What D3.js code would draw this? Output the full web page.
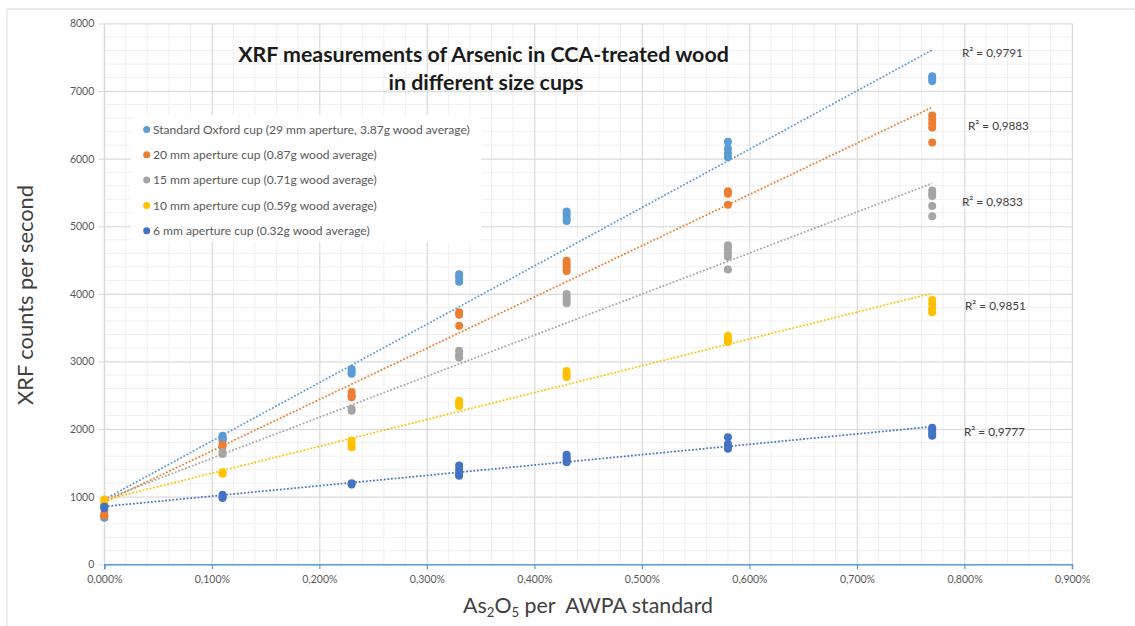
<!DOCTYPE html>
<html><head><meta charset="utf-8">
<script src="https://cdn.jsdelivr.net/npm/d3@7/dist/d3.min.js"></script>
<style>
body{margin:0;background:#fff;}
text{font-family:Lato,"Open Sans","Liberation Sans",sans-serif;}
</style>
</head><body>
<svg id="chart" width="1135" height="626"></svg>
<script>
// ---------------- DATA ----------------
const xValues = [0, 0.11, 0.23, 0.33, 0.43, 0.58, 0.77]; // As2O5 % per AWPA standard

const seriesNames = [
  "Standard Oxford cup (29 mm aperture, 3.87g wood average)",
  "20 mm aperture cup (0.87g wood average)",
  "15 mm aperture cup (0.71g wood average)",
  "10 mm aperture cup (0.59g wood average)",
  "6 mm aperture cup (0.32g wood average)"
];

// replicate XRF counts per second at each x value
const oxfordCup = [[700, 690], [1900, 1870, 1850, 1830], [2890, 2850, 2820], [4290, 4240, 4180],
  [5220, 5170, 5120, 5080], [6250, 6150, 6080, 6020], [7220, 7180, 7150]];
const cup20mm = [[760, 720], [1770, 1740], [2550, 2500, 2470], [3730, 3690, 3530],
  [4490, 4440, 4390, 4340], [5520, 5480, 5320], [6640, 6580, 6520, 6460, 6240]];
const cup15mm = [[880, 860], [1660, 1630], [2300, 2270], [3160, 3100, 3060],
  [4000, 3950, 3900, 3860], [4720, 4660, 4600, 4550, 4360], [5530, 5480, 5450, 5300, 5150]];
const cup10mm = [[960, 940], [1360, 1340], [1830, 1780, 1730], [2420, 2380, 2340],
  [2860, 2810, 2770], [3380, 3330, 3290], [3910, 3850, 3780, 3730]];
const cup6mm = [[850, 830], [1030, 1000, 980], [1200, 1180], [1460, 1400, 1350, 1310],
  [1620, 1580, 1540, 1510], [1880, 1780, 1740, 1710], [2020, 1980, 1940, 1900]];

// linear trendline values read at x = 0 and x = 0.77
const trendStart = [960, 920, 960, 950, 855];
const trendEnd = [7608, 6760, 5636, 4009, 2036];

const r2Labels = ["R² = 0,9791", "R² = 0,9883", "R² = 0,9833", "R² = 0,9851", "R² = 0,9777"];

const xTicks = [0, 0.1, 0.2, 0.3, 0.4, 0.5, 0.6, 0.7, 0.8, 0.9];
const yTicks = [0, 1000, 2000, 3000, 4000, 5000, 6000, 7000, 8000];

const titleLines = ["XRF measurements of Arsenic in CCA-treated wood", "in different size cups"];
const yTitle = "XRF counts per second";

// ---------------- STYLE / LAYOUT ----------------
const colors = ["#5B9BD5", "#ED7D31", "#A5A5A5", "#FFC000", "#4472C4"];
const allSeries = [oxfordCup, cup20mm, cup15mm, cup10mm, cup6mm];
const plot = {left: 104.3, right: 1072, top: 23.5, bottom: 564.3};
const r2Pos = [[962, 53], [968, 126], [962, 202], [965, 306], [964, 432]];

const svg = d3.select("#chart");
const x = d3.scaleLinear().domain([0, 0.9]).range([plot.left, plot.right]);
const y = d3.scaleLinear().domain([0, 8000]).range([plot.bottom, plot.top]);

function fit(sel, w) {
  const L = sel.node().getComputedTextLength();
  const fs = parseFloat(sel.attr("font-size"));
  sel.attr("font-size", (fs * w / L).toFixed(2));
  return +(fs * w / L).toFixed(2);
}

// outer chart border
svg.append("rect").attr("x", 7).attr("y", 9).attr("width", 1140).attr("height", 640)
  .attr("fill", "#fff").attr("stroke", "#d9d9d9").attr("stroke-width", 1);

// minor grid
const g = svg.append("g");
g.selectAll("line.mx").data(d3.range(0, 0.9001, 0.02)).join("line")
  .attr("x1", d => x(d)).attr("x2", d => x(d)).attr("y1", plot.top).attr("y2", plot.bottom)
  .attr("stroke", "#f0f0f0").attr("stroke-width", 1);
g.selectAll("line.my").data(d3.range(0, 8001, 200)).join("line")
  .attr("x1", plot.left).attr("x2", plot.right).attr("y1", d => y(d)).attr("y2", d => y(d))
  .attr("stroke", "#f0f0f0").attr("stroke-width", 1);

// major grid via axes
const gx = svg.append("g").attr("transform", `translate(0,${plot.top})`)
  .call(d3.axisBottom(x).tickValues(xTicks).tickSize(plot.bottom - plot.top).tickFormat(""));
gx.select(".domain").remove();
gx.selectAll("line").attr("stroke", "#d9d9d9");
const gy = svg.append("g").attr("transform", `translate(${plot.left - 6},0)`)
  .call(d3.axisRight(y).tickValues(yTicks).tickSize(plot.right - plot.left + 6).tickFormat(""));
gy.select(".domain").remove();
gy.selectAll("line").attr("stroke", "#d9d9d9");
svg.append("line").attr("x1", plot.left).attr("x2", plot.left).attr("y1", plot.top).attr("y2", plot.bottom)
  .attr("stroke", "#d9d9d9");

// y tick labels
const yl = svg.append("g").attr("transform", `translate(${plot.left - 10},0)`)
  .call(d3.axisLeft(y).tickValues(yTicks).tickSize(0).tickPadding(0).tickFormat(d3.format("d")));
yl.select(".domain").remove();
yl.selectAll("text").attr("font-size", 10.5).attr("fill", "#595959").attr("font-family", "Lato");

// x axis (blue)
const xa = svg.append("g").attr("transform", `translate(0,${plot.bottom})`)
  .call(d3.axisBottom(x).tickValues(xTicks).tickSize(5).tickPadding(6)
    .tickFormat(d => d3.format(".3f")(d).replace(".", ",") + "%"));
xa.select(".domain").attr("stroke", "#5B9BD5").attr("stroke-width", 1.5);
xa.selectAll("line").attr("stroke", "#5B9BD5").attr("stroke-width", 1.2);
xa.selectAll("text").attr("font-size", 10.5).attr("fill", "#595959").attr("font-family", "Lato");

// trendlines
const x0 = d3.min(xValues), x1 = d3.max(xValues);
trendStart.forEach((s, k) => {
  svg.append("line")
    .attr("x1", x(x0)).attr("y1", y(s)).attr("x2", x(x1)).attr("y2", y(trendEnd[k]))
    .attr("stroke", colors[k]).attr("stroke-width", 1.7).attr("stroke-dasharray", "1.8,1.8");
});
// points
const flat = allSeries.map(s => s.flatMap((vals, i) => vals.map(v => ({x: xValues[i], y: v}))));
flat.forEach((pts, k) => {
  svg.append("g").selectAll("circle").data(pts).join("circle")
    .attr("cx", d => x(d.x)).attr("cy", d => y(d.y)).attr("r", 4).attr("fill", colors[k]);
});

// R² labels
let r2fs = null;
r2Labels.forEach((t, k) => {
  const tt = svg.append("text").attr("x", r2Pos[k][0]).attr("y", r2Pos[k][1]).attr("dy", "0.35em")
    .attr("font-size", r2fs || 11.5).attr("fill", "#404040").text(t);
  if (k === 0) r2fs = fit(tt, 61);
});

// legend
svg.append("rect").attr("x", 131).attr("y", 115).attr("width", 350).attr("height", 127).attr("fill", "#fff");
let legFs = null;
seriesNames.forEach((n, k) => {
  const yy = 129.5 + k * 25.3;
  svg.append("circle").attr("cx", 146.7).attr("cy", yy).attr("r", 3.5).attr("fill", colors[k]);
  const t = svg.append("text").attr("x", 153).attr("y", yy).attr("dy", "0.35em")
    .attr("font-size", legFs || 11.5).attr("fill", "#595959").text(n);
  if (k === 0) legFs = fit(t, 317);
});

// title
const t1 = svg.append("text").attr("x", 483.5).attr("y", 62).attr("text-anchor", "middle")
  .attr("font-size", 18).attr("font-weight", "bold").attr("fill", "#1a1a1a").text(titleLines[0]);
fit(t1, 491);
svg.append("text").attr("x", 486).attr("y", 90).attr("text-anchor", "middle")
  .attr("font-size", t1.attr("font-size")).attr("font-weight", "bold").attr("fill", "#1a1a1a").text(titleLines[1]);

// y title
const yt = svg.append("text").attr("transform", "translate(33,295) rotate(-90)").attr("text-anchor", "middle")
  .attr("font-size", 20).attr("fill", "#404040").text(yTitle);
fit(yt, 220);

// x title with subscripts
const xt = svg.append("text").attr("x", 588).attr("y", 613).attr("text-anchor", "middle")
  .attr("font-size", 20).attr("fill", "#404040").style("white-space", "pre");
xt.append("tspan").text("As");
xt.append("tspan").attr("font-size", "0.62em").attr("dy", 4).text("2");
xt.append("tspan").attr("dy", -4).text("O");
xt.append("tspan").attr("font-size", "0.62em").attr("dy", 4).text("5");
xt.append("tspan").attr("dy", -4).text(" per  AWPA standard");
fit(xt, 250);
</script>
</body></html>
